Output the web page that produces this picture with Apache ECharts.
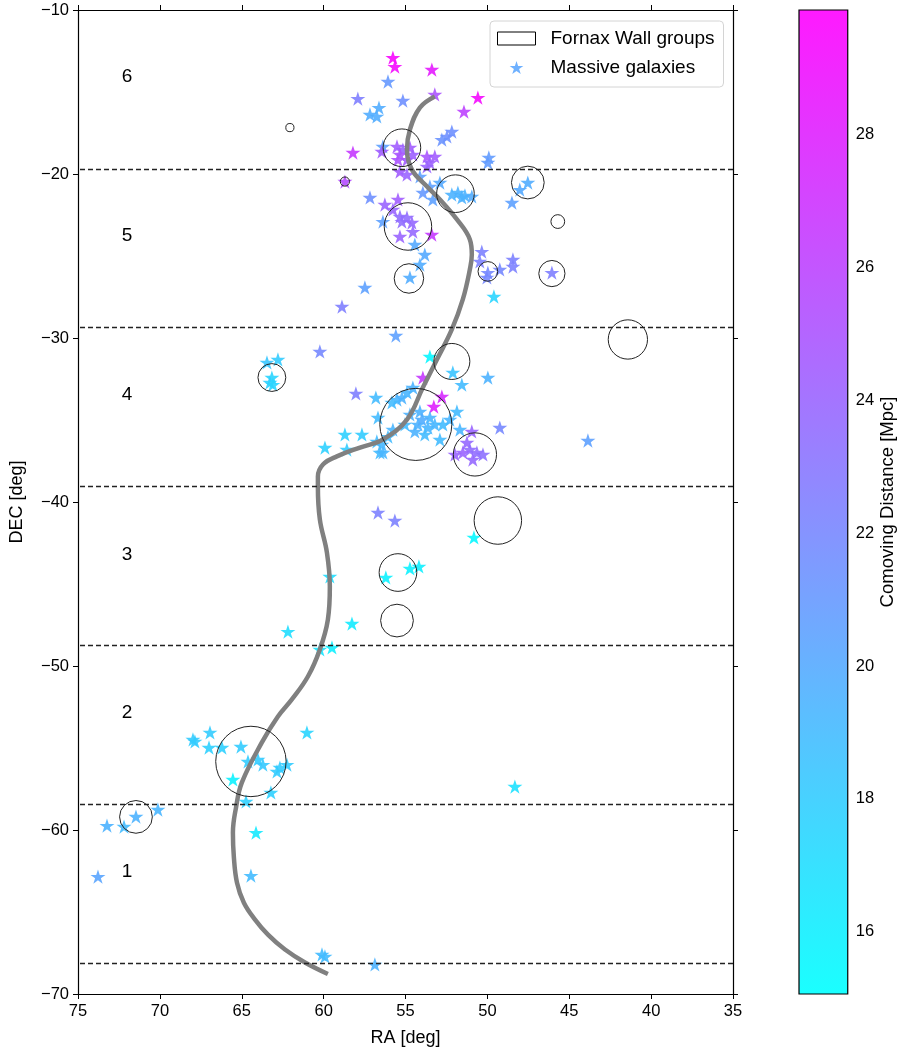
<!DOCTYPE html>
<html><head><meta charset="utf-8">
<script src="https://cdn.jsdelivr.net/npm/echarts@6.0.0/dist/echarts.min.js"></script>
<style>html,body{margin:0;padding:0;background:#fff}#chart{width:898px;height:1052px}</style>
</head><body><div id="chart"></div>
<script>
// Massive galaxies: [RA deg, DEC deg, comoving distance Mpc]
const galaxies = [
[55.77,-12.90,29.5],[55.65,-13.45,29.3],[53.39,-13.63,28.3],[50.58,-15.34,29.3],
[56.07,-14.36,21.0],[57.91,-15.40,22.5],[55.16,-15.52,21.5],[53.21,-15.15,25.0],
[51.43,-16.19,26.0],[56.62,-15.95,19.8],[57.17,-16.37,19.8],[56.75,-16.49,19.8],
[52.17,-17.41,21.5],[52.47,-17.71,21.5],[52.78,-17.90,21.3],[58.21,-18.69,26.5],
[56.38,-18.32,20.5],[56.44,-18.63,24.5],[55.52,-18.32,24.5],[55.16,-18.51,24.0],
[54.73,-18.38,24.5],[55.34,-18.81,24.8],[54.55,-18.81,24.2],[54.91,-19.12,24.5],
[55.46,-19.12,25.0],[53.69,-18.93,24.8],[53.21,-18.93,24.5],[53.51,-19.30,24.2],
[53.69,-19.54,24.0],[49.91,-18.99,20.8],[49.97,-19.30,20.8],[58.70,-20.46,25.5],
[55.34,-19.85,24.5],[54.91,-20.03,24.0],[54.12,-20.15,20.5],[53.51,-20.76,20.5],
[53.94,-21.13,21.0],[53.33,-21.55,20.5],[52.90,-20.52,20.0],[52.17,-21.25,19.5],
[51.80,-21.13,19.5],[51.37,-21.31,19.5],[50.95,-21.37,19.8],[51.56,-21.43,19.5],
[47.53,-20.52,19.8],[48.02,-20.95,20.0],[48.50,-21.74,20.5],[57.17,-21.43,21.5],
[56.26,-21.86,24.0],[55.46,-21.55,24.5],[55.77,-22.16,24.0],[55.34,-22.59,23.5],
[54.91,-22.65,23.5],[54.61,-22.96,23.8],[55.22,-22.90,23.5],[54.55,-23.51,23.8],
[55.34,-23.81,24.0],[56.38,-22.90,20.5],[53.39,-23.69,26.5],[54.43,-24.30,20.0],
[53.82,-24.91,20.0],[54.12,-25.52,19.8],[54.73,-26.31,19.8],[57.48,-26.92,20.5],
[58.88,-28.08,22.5],[49.60,-27.47,17.5],[50.34,-24.73,22.3],[50.46,-25.33,22.3],
[49.97,-26.01,22.0],[50.03,-26.31,22.0],[49.24,-25.82,22.0],[48.44,-25.21,22.3],
[48.44,-25.64,22.3],[46.06,-26.01,22.5],
[55.59,-29.85,20.5],[60.23,-30.82,22.0],[62.79,-31.31,18.0],[63.46,-31.49,18.3],
[63.16,-32.41,17.5],[63.28,-32.71,17.8],[63.10,-32.84,17.5],[53.51,-31.13,15.6],
[52.11,-32.10,18.5],[51.56,-32.84,19.0],[49.97,-32.41,19.5],[53.94,-32.41,26.5],
[52.78,-33.57,27.5],[53.27,-34.18,28.0],[58.03,-33.38,22.5],[56.81,-33.63,19.0],
[55.52,-33.75,19.3],[55.83,-33.93,19.0],[55.22,-33.63,19.5],[54.55,-33.02,19.5],
[54.91,-33.32,19.3],[54.73,-34.66,19.5],[54.12,-34.48,19.5],[53.51,-34.85,19.3],
[54.24,-35.27,19.5],[53.63,-35.46,19.3],[54.43,-35.70,19.5],[53.82,-35.88,19.0],
[53.21,-35.27,19.3],[55.04,-35.27,19.0],[54.00,-34.97,19.8],[51.86,-34.48,19.0],
[52.29,-34.97,19.3],[52.72,-35.27,19.0],[52.90,-36.19,19.0],[51.68,-35.58,19.3],
[50.95,-35.70,24.0],[49.24,-35.46,22.0],[51.25,-36.37,23.8],[51.07,-36.80,23.5],
[50.64,-36.98,23.5],[50.27,-37.10,23.3],[50.89,-37.41,23.8],[51.50,-36.98,24.0],
[51.98,-37.10,24.0],[58.70,-35.88,17.8],[57.66,-35.88,18.0],[56.68,-34.85,19.0],
[58.58,-36.80,18.0],[59.92,-36.68,17.8],[56.75,-36.31,19.0],[56.44,-36.49,19.2],
[56.56,-36.98,19.0],[56.38,-36.98,19.3],[56.07,-36.01,19.0],[55.77,-35.58,19.3],
[43.86,-36.25,20.5],
[56.68,-40.64,22.3],[55.65,-41.13,22.3],[50.82,-42.16,15.5],[56.20,-44.60,15.8],
[54.73,-44.05,15.8],[54.18,-43.93,16.0],[59.62,-44.54,17.0],[58.27,-47.41,16.2],
[62.18,-47.90,17.0],[60.23,-48.99,16.5],[59.49,-48.87,16.0],
[67.98,-54.48,18.0],[67.86,-54.60,18.0],[66.94,-54.05,18.0],[67.00,-54.97,17.8],
[66.21,-54.97,17.8],[65.05,-54.91,18.0],[64.62,-55.82,18.0],[64.01,-55.70,18.0],
[63.71,-56.01,18.2],[62.85,-56.43,18.0],[62.67,-56.19,18.0],[62.24,-56.01,18.0],
[65.54,-56.92,15.8],[63.22,-57.71,17.8],[64.74,-58.26,17.8],[61.02,-54.05,17.5],
[48.32,-57.35,16.8],
[64.13,-60.16,16.3],[64.44,-62.78,19.0],[73.78,-62.84,20.3],[73.23,-59.73,19.5],
[72.19,-59.79,19.0],[71.46,-59.18,19.5],[70.12,-58.75,19.3],[60.10,-67.59,19.0],
[59.92,-67.71,19.0],[56.87,-68.20,19.5]
];
// Fornax Wall groups: [RA deg, DEC deg, radius deg]
const groups = [
[62.06,-17.17,0.25],[55.22,-18.40,1.15],[51.95,-21.20,1.15],[47.53,-20.52,1.0],
[45.70,-22.90,0.42],[54.85,-23.20,1.45],[54.79,-26.37,0.9],[49.97,-25.94,0.6],
[46.06,-26.07,0.8],[58.70,-20.46,0.28],[41.42,-30.09,1.2],[52.17,-31.43,1.1],
[63.16,-32.41,0.85],[54.37,-35.27,2.2],[50.76,-37.10,1.32],[49.36,-41.13,1.45],
[55.46,-44.30,1.15],[55.52,-47.23,1.0],[64.44,-55.82,2.15],[71.46,-59.20,1.0]
];
// Wall spine curve: [RA deg, DEC deg]
const wallCurve = [
[53.21,-15.27],[54.12,-15.95],[54.73,-17.29],[54.91,-18.51],[54.61,-19.73],
[53.69,-20.76],[52.90,-21.55],[51.86,-22.77],[51.07,-23.99],[50.95,-24.91],
[51.07,-25.82],[51.50,-27.65],[52.17,-29.48],[53.08,-31.31],[53.94,-33.02],
[54.91,-34.97],[56.38,-36.19],[57.78,-36.68],[59.19,-37.22],[60.04,-37.71],
[60.35,-38.45],[60.35,-39.06],[60.23,-41.07],[59.80,-43.08],[59.62,-45.16],
[59.74,-47.17],[60.23,-48.99],[60.96,-50.64],[61.94,-52.04],[62.79,-53.08],
[63.77,-54.66],[64.99,-57.10],[65.35,-58.63],[65.54,-60.16],[65.48,-61.68],
[65.29,-63.21],[64.87,-64.43],[64.19,-65.46],[63.40,-66.38],[62.36,-67.29],
[61.14,-68.08],[59.74,-68.78]
];
const binEdges = [-68.14,-58.45,-48.75,-39.06,-29.37,-19.68];
const regionNames = ['1','2','3','4','5','6'];
const regionDEC = [-62.55,-52.85,-43.20,-33.45,-23.75,-14.05];
const regionRA = [72,72,72,72,72,72];
const cbMin = 15.06, cbMax = 29.88;
const cbTicks = [16,18,20,22,24,26,28];

const FONT = '"Liberation Sans", Arial, Helvetica, sans-serif';
const STAR = 'path://M0,-50L11.23,-15.45L47.55,-15.45L18.17,5.9L29.39,40.45L0,19.1L-29.39,40.45L-18.17,5.9L-47.55,-15.45L-11.23,-15.45Z';
const minusFmt = v => String(v).replace('-', '\u2212');

const chart = echarts.init(document.getElementById('chart'), null, {renderer: 'canvas'});
const lineBlack = {show: true, lineStyle: {color: '#000', width: 1.2}};
const tickOut = {show: true, inside: false, length: 5, lineStyle: {color: '#000', width: 1}};
const labelStyle = {color: '#000', fontSize: 16.5, fontFamily: FONT};

const option = {
  animation: false,
  textStyle: {fontFamily: FONT},
  grid: [
    {left: 78, top: 10, width: 655, height: 984},
    {left: 799, top: 10, width: 50, height: 984}
  ],
  xAxis: [
    {gridIndex: 0, type: 'value', min: 35, max: 75, interval: 5, inverse: true, position: 'bottom',
     name: 'RA [deg]', nameLocation: 'middle', nameGap: 35,
     nameTextStyle: {color: '#000', fontSize: 18, fontFamily: FONT},
     axisLine: lineBlack, axisTick: tickOut, splitLine: {show: false},
     axisLabel: Object.assign({margin: 9, formatter: minusFmt}, labelStyle)},
    {gridIndex: 0, type: 'value', min: 35, max: 75, interval: 5, inverse: true, position: 'top',
     axisLine: lineBlack, axisTick: tickOut, splitLine: {show: false}, axisLabel: {show: false}},
    {gridIndex: 1, type: 'value', min: 0, max: 1, show: false}
  ],
  yAxis: [
    {gridIndex: 0, type: 'value', min: -70, max: -10, interval: 10, position: 'left',
     name: 'DEC [deg]', nameLocation: 'middle', nameGap: 52, nameRotate: 90,
     nameTextStyle: {color: '#000', fontSize: 18, fontFamily: FONT},
     axisLine: lineBlack, axisTick: tickOut, splitLine: {show: false},
     axisLabel: Object.assign({margin: 9, formatter: minusFmt}, labelStyle)},
    {gridIndex: 0, type: 'value', min: -70, max: -10, interval: 10, position: 'right',
     axisLine: lineBlack, axisTick: tickOut, splitLine: {show: false}, axisLabel: {show: false}},
    {gridIndex: 1, type: 'value', min: cbMin, max: cbMax, position: 'right',
     name: 'Comoving Distance [Mpc]', nameLocation: 'middle', nameGap: 29, nameRotate: 90,
     nameTextStyle: {color: '#000', fontSize: 18.5, fontFamily: FONT},
     axisLine: {show: false}, splitLine: {show: false},
     axisTick: {show: true, inside: false, length: 5, customValues: cbTicks, lineStyle: {color: '#000'}},
     axisLabel: Object.assign({margin: 8, customValues: cbTicks}, labelStyle)}
  ],
  visualMap: {
    type: 'continuous', show: false, dimension: 2, seriesIndex: 0,
    min: cbMin, max: cbMax, inRange: {color: ['#00ffff', '#ff00ff']}
  },
  legend: {
    orient: 'vertical', left: 490, top: 21, padding: [8, 9, 10, 7], itemGap: 10,
    itemWidth: 38, itemHeight: 13, selectedMode: false,
    backgroundColor: '#fff', borderColor: '#d4d4d4', borderWidth: 1, borderRadius: 4,
    textStyle: {fontSize: 19, color: '#000', fontFamily: FONT, padding: [0, 0, 0, 10]},
    data: [
      {name: 'Fornax Wall groups', icon: 'rect', itemStyle: {color: '#fff', borderColor: '#000', borderWidth: 1}},
      {name: 'Massive galaxies', icon: STAR, itemStyle: {color: '#5fa8ff', borderWidth: 0}}
    ]
  },
  series: [
    {name: 'Massive galaxies', type: 'scatter', xAxisIndex: 0, yAxisIndex: 0,
     data: galaxies, symbol: STAR, symbolSize: 15, symbolKeepAspect: true,
     itemStyle: {opacity: 0.9}, z: 2, silent: true},
    {name: 'wall', type: 'line', xAxisIndex: 0, yAxisIndex: 0, data: wallCurve,
     smooth: 0.4, showSymbol: false, symbol: 'none', lineStyle: {color: '#808080', width: 4.5},
     z: 3, silent: true,
     markLine: {silent: true, symbol: ['none', 'none'], label: {show: false},
       lineStyle: {type: [5, 3], color: '#222', width: 1.3},
       data: binEdges.map(v => ({yAxis: v}))}},
    {name: 'Fornax Wall groups', type: 'custom', xAxisIndex: 0, yAxisIndex: 0, data: groups, z: 4,
     silent: true,
     renderItem: function (params, api) {
       const c = api.coord([api.value(0), api.value(1)]);
       const r = Math.abs(api.size([api.value(2), 0])[0]);
       return {type: 'circle', shape: {cx: c[0], cy: c[1], r: r},
               style: {fill: 'none', stroke: '#222', lineWidth: 1}};
     }},
    {name: 'regions', type: 'custom', xAxisIndex: 0, yAxisIndex: 0, silent: true, z: 5,
     data: regionNames.map((n, i) => [regionRA[i], regionDEC[i]]),
     renderItem: function (params, api) {
       const c = api.coord([api.value(0), api.value(1)]);
       return {type: 'text', x: c[0], y: c[1],
               style: {text: regionNames[params.dataIndex], fill: '#000', fontSize: 19,
                       fontFamily: FONT, align: 'center', verticalAlign: 'middle'}};
     }},
    {name: 'colorbar', type: 'custom', xAxisIndex: 2, yAxisIndex: 2, silent: true,
     data: [[0, cbMin, cbMax]],
     renderItem: function (params, api) {
       const p0 = api.coord([0, api.value(1)]);
       const p1 = api.coord([1, api.value(2)]);
       const shape = {x: p0[0], y: p1[1], width: p1[0] - p0[0], height: p0[1] - p1[1]};
       return {type: 'group', children: [
         {type: 'rect', shape: shape, style: {fill: {type: 'linear', x: 0, y: 1, x2: 0, y2: 0,
           colorStops: [{offset: 0, color: '#1affff'}, {offset: 1, color: '#ff1aff'}]}}},
         {type: 'rect', shape: shape, style: {fill: 'none', stroke: '#000', lineWidth: 1.2}}
       ]};
     }}
  ]
};
chart.setOption(option);
</script></body></html>
